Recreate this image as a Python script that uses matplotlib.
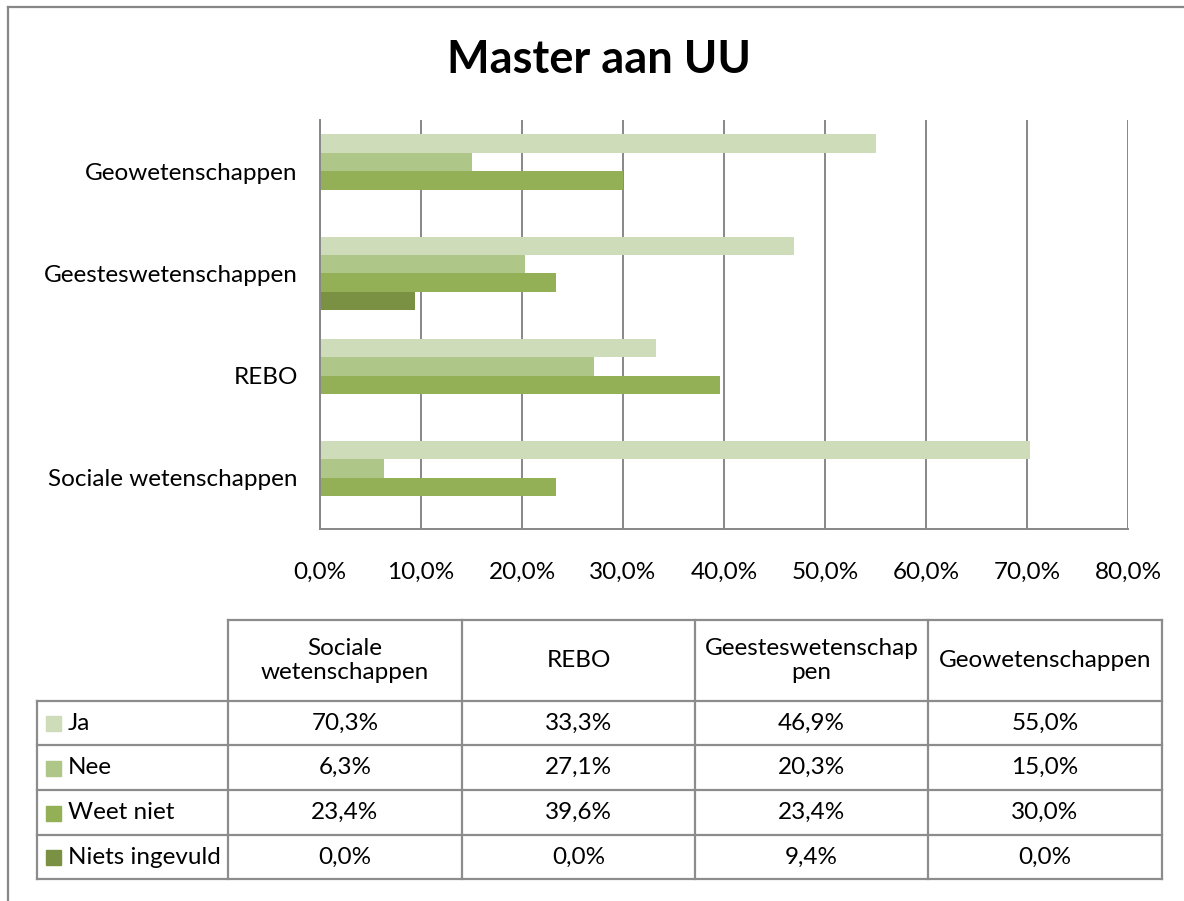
import numpy as np
import matplotlib.pyplot as plt
from matplotlib.lines import Line2D
from matplotlib.patches import Rectangle

plt.rcParams['font.family'] = ['Lato', 'DejaVu Sans']

# data #
categories = ['Sociale wetenschappen', 'REBO', 'Geesteswetenschappen', 'Geowetenschappen']
header_labels = ['Sociale\nwetenschappen', 'REBO', 'Geesteswetenschap\npen', 'Geowetenschappen']
series = ['Ja', 'Nee', 'Weet niet', 'Niets ingevuld']
ja = [70.3, 33.3, 46.9, 55.0]
nee = [6.3, 27.1, 20.3, 15.0]
weet_niet = [23.4, 39.6, 23.4, 30.0]
niets = [0.0, 0.0, 9.4, 0.0]
xticks = [0, 10, 20, 30, 40, 50, 60, 70, 80]

values = [ja, nee, weet_niet, niets]
colors = ['#CFDCB9', '#AEC688', '#93B056', '#7A9143']
grid_c = '#878787'
fs = 17.5

W, H = 1184, 901
fig = plt.figure(figsize=(W / 100, H / 100), dpi=100)

# outer frame (left + top edges visible)
frame = fig.add_axes([0, 0, 1, 1])
frame.set_xlim(0, W)
frame.set_ylim(H, 0)
frame.axis('off')
frame.add_line(Line2D([8, 8], [7, H], color=grid_c, lw=1.6))
frame.add_line(Line2D([8, W], [7, 7], color=grid_c, lw=1.6))

# bar chart
x0, x1, y0, y1 = 320, 1128, 120, 529
ax = fig.add_axes([x0 / W, 1 - y1 / H, (x1 - x0) / W, (y1 - y0) / H])
ypos = np.arange(len(categories))
h = 0.18
offsets = [0.27, 0.09, -0.09, -0.27]
for vals, off, c in zip(values, offsets, colors):
    ax.barh(ypos + off, vals, height=h, color=c, zorder=3)
ax.set_xlim(0, 80)
ax.set_ylim(-0.5, 3.5)
ax.set_xticks(xticks)
ax.set_xticklabels([('%.1f%%' % t).replace('.', ',') for t in xticks])
ax.set_yticks(ypos)
ax.set_yticklabels(categories)
ax.tick_params(length=0, labelsize=fs, colors='black')
ax.tick_params(axis='x', pad=24)
ax.tick_params(axis='y', pad=16)
ax.grid(axis='x', color=grid_c, lw=1.4, zorder=0)
for s in ['top', 'right']:
    ax.spines[s].set_visible(False)
for s in ['left', 'bottom']:
    ax.spines[s].set_color(grid_c)
    ax.spines[s].set_linewidth(1.4)
    ax.spines[s].set_zorder(4)

fig.text(599 / W, 1 - 60 / H, 'Master aan UU', ha='center', va='center',
         fontsize=32.5, fontweight='bold')

# data table
col_x = [37, 228, 462, 695, 928, 1162]
row_y = [620, 701, 745, 790, 835, 879]
tc = '#8C8C8C'
frame.add_line(Line2D([col_x[1], col_x[-1]], [row_y[0], row_y[0]], color=tc, lw=1.6))
for yy in row_y[1:]:
    frame.add_line(Line2D([col_x[0], col_x[-1]], [yy, yy], color=tc, lw=1.6))
frame.add_line(Line2D([col_x[0], col_x[0]], [row_y[1], row_y[-1]], color=tc, lw=1.6))
for xx in col_x[1:]:
    frame.add_line(Line2D([xx, xx], [row_y[0], row_y[-1]], color=tc, lw=1.6))

for j, lab in enumerate(header_labels):
    cx = (col_x[j + 1] + col_x[j + 2]) / 2
    cy = (row_y[0] + row_y[1]) / 2
    frame.text(cx, cy, lab, ha='center', va='center', fontsize=fs, linespacing=1.2)

for i, (name, vals, c) in enumerate(zip(series, values, colors)):
    cy = (row_y[i + 1] + row_y[i + 2]) / 2
    frame.add_patch(Rectangle((46, cy - 7), 15, 15, color=c))
    frame.text(68, cy, name, ha='left', va='center', fontsize=fs)
    for j, v in enumerate(vals):
        cx = (col_x[j + 1] + col_x[j + 2]) / 2
        frame.text(cx, cy, ('%.1f%%' % v).replace('.', ','), ha='center', va='center', fontsize=fs)

plt.savefig('out.png', dpi=100)
